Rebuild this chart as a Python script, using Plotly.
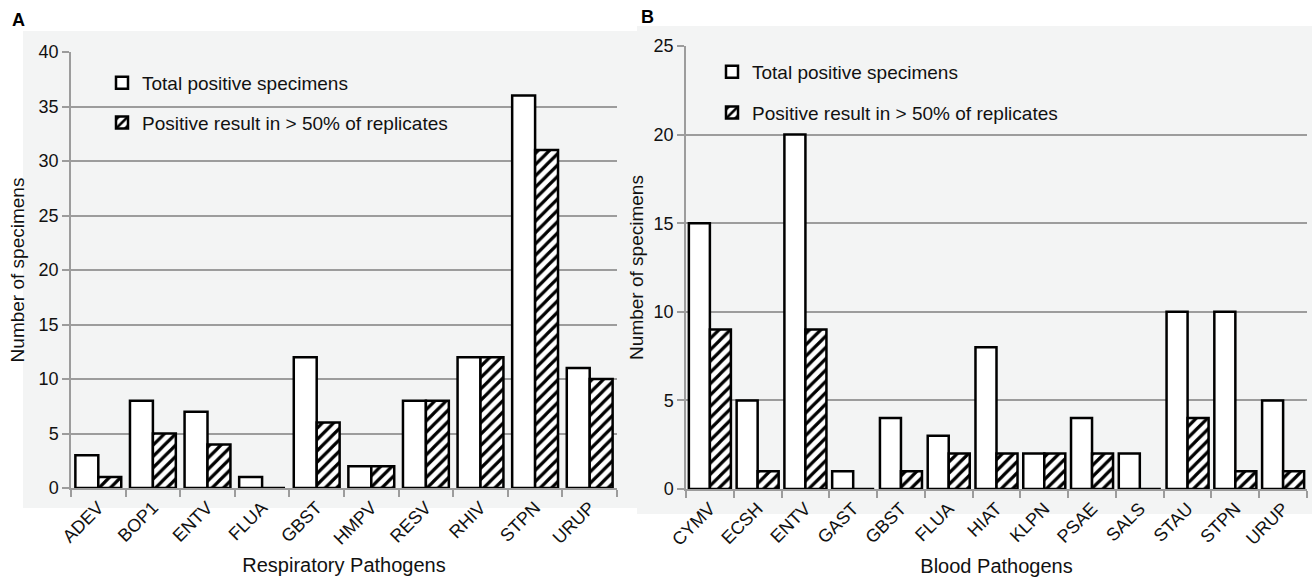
import plotly.graph_objects as go
from plotly.subplots import make_subplots

W, H = 1313, 582

resp_cats = ["ADEV", "BOP1", "ENTV", "FLUA", "GBST", "HMPV", "RESV", "RHIV", "STPN", "URUP"]
resp_total = [3, 8, 7, 1, 12, 2, 8, 12, 36, 11]
resp_pos50 = [1, 5, 4, 0, 6, 2, 8, 12, 31, 10]

blood_cats = ["CYMV", "ECSH", "ENTV", "GAST", "GBST", "FLUA", "HIAT", "KLPN", "PSAE", "SALS", "STAU", "STPN", "URUP"]
blood_total = [15, 5, 20, 1, 4, 3, 8, 2, 4, 2, 10, 10, 5]
blood_pos50 = [9, 1, 9, 0, 1, 2, 2, 2, 2, 0, 4, 1, 1]

name_total = "Total positive specimens"
name_pos = "Positive result in > 50% of replicates"

FONT = "Liberation Sans, Arial, sans-serif"
GRID = "#9c9c9c"
BG = "#f3f4f4"
TXT = "#111"

fig = make_subplots(rows=1, cols=2)


def px_x(v):
    return v / W


def px_y(v):
    return (H - v) / H


def add_panel(cats, tot, pos, col, bw, legend):
    fig.add_trace(go.Bar(
        x=cats, y=tot, name=name_total, width=bw, offset=-bw,
        marker=dict(color="white", line=dict(color="black", width=2.5)),
        legend=legend, legendgroup=legend + "a",
    ), row=1, col=col)
    fig.add_trace(go.Bar(
        x=cats, y=pos, name=name_pos, width=bw, offset=0,
        marker=dict(color="white", line=dict(color="black", width=2.5),
                    pattern=dict(shape="/", fgcolor="black", bgcolor="white",
                                 size=8, solidity=0.4, fillmode="replace")),
        legend=legend, legendgroup=legend + "b",
    ), row=1, col=col)


add_panel(resp_cats, resp_total, resp_pos50, 1, 0.42, "legend")
add_panel(blood_cats, blood_total, blood_pos50, 2, 0.44, "legend2")

axis_common_x = dict(
    showline=True, linecolor=GRID, linewidth=2, ticks="outside", tickcolor=GRID,
    ticklen=7, tickwidth=1.5, tickson="boundaries", tickangle=-45, showgrid=False,
    tickfont=dict(size=18, color=TXT, family=FONT),
    title=dict(font=dict(size=20, color=TXT, family=FONT), standoff=10),
    automargin=False,
)
axis_common_y = dict(
    showline=True, linecolor=GRID, linewidth=1.5, ticks="outside", tickcolor=GRID,
    ticklen=7, tickwidth=1.5, showgrid=True, gridcolor=GRID, gridwidth=1.5,
    zeroline=False, tickfont=dict(size=18, color=TXT, family=FONT),
    title=dict(text="Number of specimens", font=dict(size=19, color=TXT, family=FONT), standoff=9),
    automargin=False,
)

fig.update_xaxes(axis_common_x)
fig.update_yaxes(axis_common_y)

legend_font = dict(size=19, family=FONT, color=TXT)

fig.update_layout(
    xaxis=dict(domain=[px_x(71), px_x(617)], title_text="Respiratory Pathogens"),
    yaxis=dict(domain=[px_y(488), px_y(52)], range=[0, 40], dtick=5),
    xaxis2=dict(domain=[px_x(686), px_x(1307)], title_text="Blood Pathogens"),
    yaxis2=dict(domain=[px_y(489), px_y(46)], range=[0, 25], dtick=5,
                title=dict(standoff=5)),
    width=W, height=H,
    margin=dict(l=0, r=0, t=0, b=0),
    paper_bgcolor="white",
    plot_bgcolor="rgba(0,0,0,0)",
    font=dict(family=FONT, color=TXT),
    showlegend=True,
    legend=dict(x=px_x(102), y=px_y(64), xanchor="left", yanchor="top",
                bgcolor="rgba(0,0,0,0)", font=legend_font,
                traceorder="grouped", tracegroupgap=12, itemwidth=30),
    legend2=dict(x=px_x(712), y=px_y(53), xanchor="left", yanchor="top",
                 bgcolor="rgba(0,0,0,0)", font=legend_font,
                 traceorder="grouped", tracegroupgap=13, itemwidth=30),
    shapes=[
        dict(type="rect", xref="paper", yref="paper", layer="below",
             x0=px_x(23), x1=px_x(637), y0=px_y(508), y1=px_y(31),
             fillcolor=BG, line=dict(width=0)),
        dict(type="rect", xref="paper", yref="paper", layer="below",
             x0=px_x(637), x1=px_x(1312), y0=px_y(514), y1=px_y(26),
             fillcolor=BG, line=dict(width=0)),
    ],
    annotations=[
        dict(text="<b>A</b>", x=px_x(10), y=px_y(20), xref="paper", yref="paper",
             xanchor="left", yanchor="middle", showarrow=False,
             font=dict(size=18, family=FONT, color="black")),
        dict(text="<b>B</b>", x=px_x(639), y=px_y(17), xref="paper", yref="paper",
             xanchor="left", yanchor="middle", showarrow=False,
             font=dict(size=18, family=FONT, color="black")),
    ],
)

fig.write_html("out.html", config={"displayModeBar": False},
               post_script="document.body.style.margin='0';document.body.style.overflow='hidden';")
